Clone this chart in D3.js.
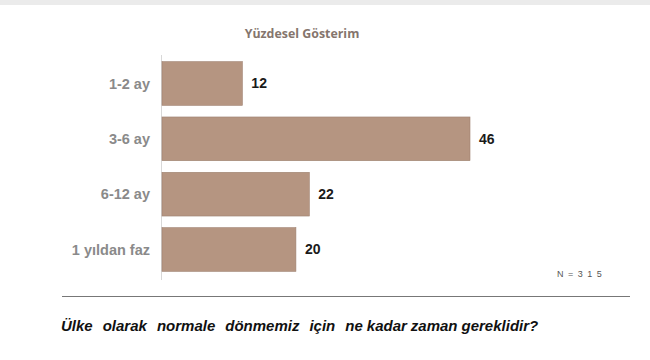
<!DOCTYPE html>
<html>
<head>
<meta charset="utf-8">
<script src="https://cdn.jsdelivr.net/npm/d3@7"></script>
<style>
  body { margin: 0; background: #fff; }
</style>
</head>
<body>
<script>
let categories = ['1-2 ay', '3-6 ay', '6-12 ay', '1 yıldan faz']
let values = [12, 46, 22, 20]
let title = 'Yüzdesel Gösterim'
let note = 'N = 3 1 5'
let questionWords = ['Ülke', 'olarak', 'normale', 'dönmemiz', 'için', 'ne', 'kadar', 'zaman', 'gereklidir?']

let width = 650
let height = 360

let svg = d3.select('body')
  .append('svg')
  .attr('width', width)
  .attr('height', height)
  .style('font-family', 'Liberation Sans, Arial, sans-serif')

// top gray strip
svg.append('rect')
  .attr('x', 0).attr('y', 0)
  .attr('width', width).attr('height', 5)
  .attr('fill', '#ebebeb')

svg.append('text')
  .attr('x', 302)
  .attr('y', 38)
  .attr('text-anchor', 'middle')
  .attr('fill', '#85756d')
  .attr('font-family', 'Open Sans, sans-serif')
  .attr('font-weight', 'bold')
  .attr('font-size', 12.4)
  .text(title)

let x = d3.scaleLinear()
  .domain([0, 46])
  .range([162, 470])

let y = d3.scaleBand()
  .domain(categories)
  .range([55, 278])
  .paddingInner(0.21)
  .paddingOuter(0.12)

// axis line
svg.append('line')
  .attr('x1', 161.5).attr('x2', 161.5)
  .attr('y1', 55).attr('y2', 280)
  .attr('stroke', '#d8d8d8')
  .attr('stroke-width', 1)

svg.selectAll('rect.bar')
  .data(values)
  .enter()
  .append('rect')
  .attr('class', 'bar')
  .attr('x', x(0))
  .attr('y', (d, i) => y(categories[i]))
  .attr('width', d => x(d) - x(0))
  .attr('height', y.bandwidth())
  .attr('fill', '#b59581')
  .attr('stroke', '#9e8170')
  .attr('stroke-width', 0.6)

svg.selectAll('text.cat')
  .data(categories)
  .enter()
  .append('text')
  .attr('class', 'cat')
  .attr('x', 150)
  .attr('y', d => y(d) + y.bandwidth() / 2)
  .attr('dy', '0.35em')
  .attr('text-anchor', 'end')
  .attr('fill', '#8a8a8a')
  .attr('font-weight', 'bold')
  .attr('font-size', 14.5)
  .text(d => d)

svg.selectAll('text.val')
  .data(values)
  .enter()
  .append('text')
  .attr('class', 'val')
  .attr('x', d => x(d) + 9)
  .attr('y', (d, i) => y(categories[i]) + y.bandwidth() / 2)
  .attr('dy', '0.35em')
  .attr('fill', '#1a1a1a')
  .attr('font-weight', 'bold')
  .attr('font-size', 14)
  .text(d => d)

svg.append('text')
  .attr('x', 557)
  .attr('y', 277)
  .attr('fill', '#555')
  .attr('font-size', 9)
  .attr('letter-spacing', 1)
  .attr('xml:space', 'preserve')
  .text(note)

svg.append('line')
  .attr('x1', 62).attr('x2', 630)
  .attr('y1', 296.5).attr('y2', 296.5)
  .attr('stroke', '#777')
  .attr('stroke-width', 1)

// question: wider gaps in the first part, tight in the last words
let q = svg.append('text')
  .attr('x', 61)
  .attr('y', 331)
  .attr('fill', '#111')
  .attr('font-weight', 'bold')
  .attr('font-style', 'italic')
  .attr('font-size', 15)

q.selectAll('tspan')
  .data(questionWords)
  .enter()
  .append('tspan')
  .attr('dx', (d, i) => i === 0 ? 0 : (i <= 5 ? 10 : 4))
  .text(d => d)
</script>
</body>
</html>
